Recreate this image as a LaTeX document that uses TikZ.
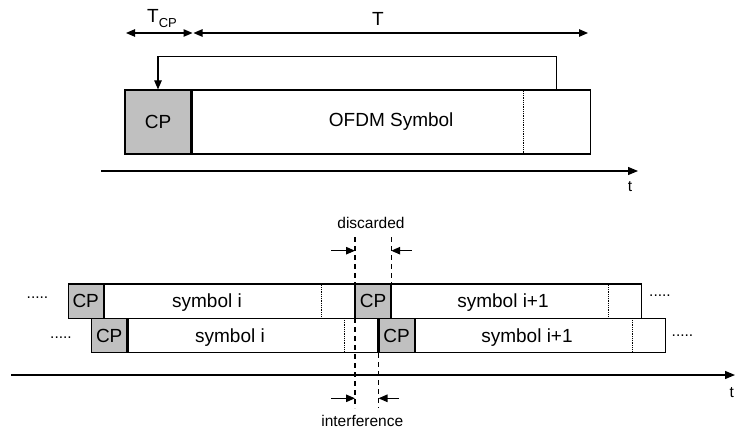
\documentclass[tikz,border=0pt]{standalone}
\usepackage{fontspec}
\setmainfont{Liberation Sans}
\usetikzlibrary{arrows.meta,calc}
\definecolor{cpgray}{RGB}{192,192,192}
\begin{document}
\begin{tikzpicture}[x=1pt,y=-1pt,
 box/.style={draw,line width=1.2pt,rectangle,inner sep=0pt,font=\fontsize{19}{22}\selectfont},
 cpbox/.style={box,fill=cpgray},
 arr/.style={line width=1.1pt,-{Triangle[length=9pt,width=7.5pt]}},
 dbl/.style={line width=1.1pt,{Triangle[length=9pt,width=7.5pt]}-{Triangle[length=9pt,width=7.5pt]}},
 axis/.style={line width=1.2pt,-{Triangle[length=10pt,width=8pt]}},
 dotl/.style={densely dotted,line width=0.8pt},
 dashl/.style={dash pattern=on 5pt off 4pt,line width=1.1pt},
 small/.style={font=\fontsize{15.5}{18}\selectfont,inner sep=0pt},
 big/.style={font=\fontsize{19}{22}\selectfont,inner sep=0pt}]
\useasboundingbox (0,0) rectangle (736,433);

% ---------- top part ----------
\node[cpbox,minimum width=66pt,minimum height=64pt] (cp0) at (158,122) {CP};
\node[box,minimum width=398pt,minimum height=64pt,anchor=west] (s0) at (cp0.east) {OFDM Symbol};
\draw[dotl] ($(s0.north east)+(-67,0)$) -- ($(s0.south east)+(-67,0)$);
\coordinate (fb) at ($(s0.north east)+(-34,0)$);
\draw[arr] (fb) -- ++(0,-33) -| (cp0.north);

\coordinate (tcpL) at (126,33);
\coordinate (tcpR) at (192.5,33);
\coordinate (tL) at (193.5,33);
\coordinate (tR) at (588,33);
\draw[dbl] (tcpL) -- (tcpR);
\draw[dbl] (tL) -- (tR);
\node[big,anchor=base] (lTcp) at (162,22.7) {T\raisebox{-5pt}{\fontsize{13}{14}\selectfont CP}};
\node[big,anchor=base] (lT) at (378,26) {T};

\coordinate (ax0s) at (101,171);
\coordinate (ax0e) at (638,171);
\draw[axis] (ax0s) -- (ax0e);
\node[small] (t0) at (630,187) {t};

% ---------- bottom part ----------
% row 1
\node[cpbox,minimum width=35pt,minimum height=34.5pt] (cpA) at (85.7,301.3) {CP};
\node[box,minimum width=250pt,minimum height=34.5pt,anchor=west] (sA) at (cpA.east) {};
\node[cpbox,minimum width=35pt,minimum height=34.5pt,anchor=west] (cpB) at (sA.east) {CP};
\node[box,minimum width=250pt,minimum height=34.5pt,anchor=west] (sB) at (cpB.east) {};
% row 2
\node[cpbox,minimum width=35pt,minimum height=34pt] (cpC) at (109.2,335.7) {CP};
\node[box,minimum width=250pt,minimum height=34pt,anchor=west] (sC) at (cpC.east) {};
\node[cpbox,minimum width=35pt,minimum height=34pt,anchor=west] (cpD) at (sC.east) {CP};
\node[box,minimum width=250pt,minimum height=34pt,anchor=west] (sD) at (cpD.east) {};

\foreach \s in {sA,sB,sC,sD}
  \draw[dotl] ($(\s.north east)+(-34,0)$) -- ($(\s.south east)+(-34,0)$);

\node[big] (tA) at (207,303) {symbol i};
\node[big] (tC) at (230,337.5) {symbol i};
\node[big] (tB) at (503,303) {symbol i+1};
\node[big] (tD) at (527,337.5) {symbol i+1};

\node[small,anchor=base] (dotsA) at (37.5,298) {.....};
\node[small,anchor=base] (dotsC) at (61,338) {.....};
\node[small,anchor=base] (dotsB) at (660,296) {.....};
\node[small,anchor=base] (dotsD) at (682.5,336) {.....};

\coordinate (ax1s) at (11,375);
\coordinate (ax1e) at (735,375);
\draw[axis] (ax1s) -- (ax1e);
\node[small] (t1) at (731.7,393) {t};

% dashed guide lines
\coordinate (d1t) at (cpB.north west |- 0,237);
\coordinate (d1b) at (cpB.north west |- 0,408);
\coordinate (d2t) at (cpB.north east |- 0,237);
\coordinate (d3b) at (cpD.south west |- 0,408);
\draw[dashl] (d1t) -- (d1b);
\draw[dashl] (d2t) -- (cpB.north east);
\draw[dashl] (cpD.south west) -- (d3b);

\coordinate (da) at (331,250.7);
\coordinate (db) at (411.7,250.7);
\draw[arr] (da) -- (da -| d1t);
\draw[arr] (db) -- (db -| d2t);
\coordinate (ia) at (331,398.3);
\coordinate (ib) at (399,398.3);
\draw[arr] (ia) -- (ia -| d1t);
\draw[arr] (ib) -- (ib -| d3b);

\node[small] (ldis) at (371,222.7) {discarded};
\node[small] (lint) at (362.3,421) {interference};
\end{tikzpicture}
\end{document}
